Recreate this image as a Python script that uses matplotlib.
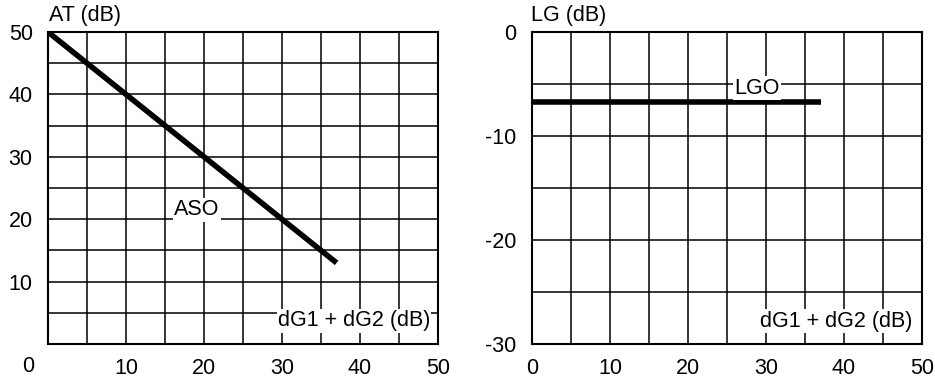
import numpy as np
import matplotlib.pyplot as plt

plt.rcParams['font.family'] = ['Liberation Sans', 'DejaVu Sans']
plt.rcParams['font.size'] = 15.5
plt.rcParams['axes.unicode_minus'] = False

# left panel: attenuation ASO vs dG1 + dG2
aso_x = [0, 37]
aso_y = [50, 13]
# right panel: loop gain LGO
lgo_x = [0, 37]
lgo_y = [-6.7, -6.7]

x_ticks = [10, 20, 30, 40, 50]
at_ticks = [10, 20, 30, 40, 50]
lg_ticks = [0, -10, -20, -30]

fig = plt.figure(figsize=(9.35, 3.78), dpi=100)
W, H = 935.0, 378.0
ax1 = fig.add_axes([48 / W, 1 - 344 / H, 390 / W, 312 / H])
ax2 = fig.add_axes([532 / W, 1 - 344 / H, 390 / W, 312 / H])

box = dict(facecolor='white', edgecolor='none', pad=1)


def grid_axes(ax, ylo, yhi):
    ax.set_xlim(0, 50)
    ax.set_ylim(ylo, yhi)
    for v in np.arange(5, 50, 5):
        ax.axvline(v, color='black', lw=1.1, zorder=1)
    for v in np.arange(ylo + 5, yhi, 5):
        ax.axhline(v, color='black', lw=1.1, zorder=1)
    for s in ax.spines.values():
        s.set_linewidth(1.5)
    ax.tick_params(axis='y', length=0, pad=11)
    ax.tick_params(axis='x', length=0, pad=10)


grid_axes(ax1, 0, 50)
ax1.set_xticks(x_ticks)
ax1.set_yticks(at_ticks)
ax1.plot(aso_x, aso_y, color='black', lw=4, solid_capstyle='butt', zorder=3)
ax1.text(19.1, 21.5, 'ASO', ha='center', va='center', bbox=box, zorder=4)
ax1.text(49.0, 3.7, 'dG1 + dG2 (dB)', ha='right', va='center', bbox=box, zorder=4)
fig.text(49 / W, 1 - 15 / H, 'AT (dB)', ha='left', va='center')
fig.text(28 / W, 1 - 367 / H, '0', ha='center', va='center')

grid_axes(ax2, -30, 0)
ax2.set_xticks([0] + x_ticks)
ax2.set_yticks(lg_ticks)
ax2.plot(lgo_x, lgo_y, color='black', lw=4, solid_capstyle='butt', zorder=3)
ax2.text(28.8, -5.4, 'LGO', ha='center', va='center', bbox=box, zorder=4)
ax2.text(48.8, -27.8, 'dG1 + dG2 (dB)', ha='right', va='center', bbox=box, zorder=4)
fig.text(531 / W, 1 - 15 / H, 'LG (dB)', ha='left', va='center')

fig.savefig('out.png', dpi=100)
